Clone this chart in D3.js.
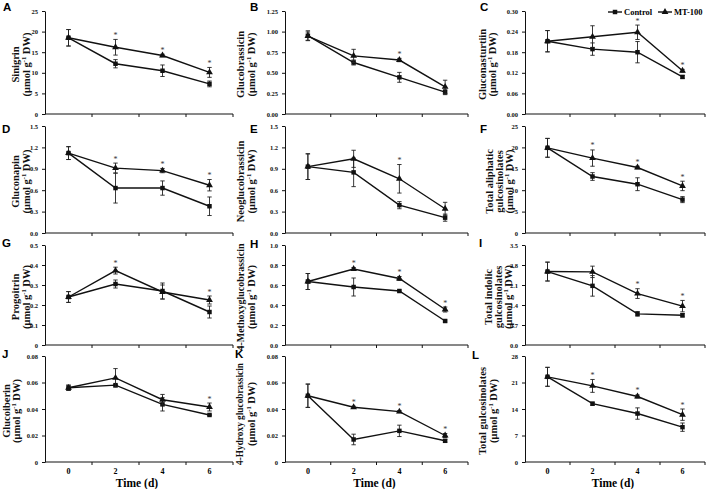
<!DOCTYPE html>
<html><head><meta charset="utf-8">
<script src="https://cdn.jsdelivr.net/npm/d3@7/dist/d3.min.js"></script>
<style>body{margin:0;background:#fff}svg{display:block}</style>
</head><body><svg id="c" width="708" height="489"></svg>
<script>
// ---------- data ----------
const days = [0, 2, 4, 6];
const letters = ["A","B","C","D","E","F","G","H","I","J","K","L"];
const UNIT = "__unit__";
const titles = [
  ["Sinigrin", UNIT],
  ["Glucobrassicin", UNIT],
  ["Gluconasturtiin", UNIT],
  ["Gluconapin", UNIT],
  ["Neoglucobrassicin", UNIT],
  ["Total aliphatic", "gulcosinolates", UNIT],
  ["Progoitrin", UNIT],
  ["4-Methoxyglucobrassicin", UNIT],
  ["Total indolic", "gulcosinolates", UNIT],
  ["Glucoiberin", UNIT],
  ["4-Hydroxy glucobrassicin", UNIT],
  ["Total gulcosinolates", UNIT]
];
const yTicks = [
  ["0","5","10","15","20","25"],
  ["0.00","0.25","0.50","0.75","1.00","1.25"],
  ["0.00","0.06","0.12","0.18","0.24","0.30"],
  ["0.0","0.3","0.6","0.9","1.2","1.5"],
  ["0.0","0.3","0.6","0.9","1.2","1.5"],
  ["0","5","10","15","20","25"],
  ["0","0.1","0.2","0.3","0.4","0.5"],
  ["0.0","0.2","0.4","0.6","0.8","1.0"],
  ["0.0","0.7","1.4","2.1","2.8","3.5"],
  ["0","0.02","0.04","0.06","0.08"],
  ["0","0.02","0.04","0.06","0.08"],
  ["0","7","14","21","28"]
];
const controlMean = [
  [18.5, 12.2, 10.5, 7.3],
  [0.95, 0.625, 0.445, 0.265],
  [0.212, 0.189, 0.180, 0.108],
  [1.12, 0.63, 0.63, 0.375],
  [0.93, 0.85, 0.39, 0.215],
  [19.9, 13.2, 11.4, 7.8],
  [0.24, 0.305, 0.27, 0.165],
  [0.635, 0.58, 0.54, 0.24],
  [2.57, 2.07, 1.09, 1.04],
  [0.056, 0.058, 0.0435, 0.0355],
  [0.05, 0.017, 0.0235, 0.016],
  [22.5, 15.4, 12.8, 9.2]
];
const controlErr = [
  [2.0, 1.0, 1.4, 0.7],
  [0.06, 0.03, 0.06, 0.03],
  [0.031, 0.018, 0.031, 0.004],
  [0.09, 0.21, 0.1, 0.13],
  [0.18, 0.2, 0.05, 0.05],
  [2.2, 0.9, 1.5, 0.7],
  [0.027, 0.02, 0.04, 0.03],
  [0.08, 0.09, 0.01, 0.01],
  [0.33, 0.36, 0.08, 0.06],
  [0.002, 0.0005, 0.005, 0.0005],
  [0.0088, 0.004, 0.0043, 0.001],
  [2.5, 0.4, 1.5, 1.1]
];
const mtMean = [
  [18.5, 16.2, 14.2, 10.1],
  [0.945, 0.705, 0.655, 0.33],
  [0.212, 0.225, 0.238, 0.126],
  [1.12, 0.91, 0.875, 0.67],
  [0.93, 1.04, 0.76, 0.34],
  [19.9, 17.5, 15.3, 11.0],
  [0.24, 0.372, 0.265, 0.225],
  [0.635, 0.76, 0.665, 0.355],
  [2.57, 2.56, 1.8, 1.36],
  [0.056, 0.0635, 0.047, 0.0415],
  [0.05, 0.0413, 0.038, 0.02],
  [22.5, 20.1, 17.3, 12.5]
];
const mtErr = [
  [2.0, 1.9, 0.3, 1.2],
  [0.05, 0.08, 0.02, 0.08],
  [0.031, 0.032, 0.021, 0.004],
  [0.09, 0.07, 0.03, 0.08],
  [0.18, 0.12, 0.2, 0.09],
  [2.2, 1.9, 0.3, 1.1],
  [0.027, 0.017, 0.035, 0.02],
  [0.08, 0.015, 0.02, 0.025],
  [0.33, 0.2, 0.17, 0.2],
  [0.002, 0.007, 0.004, 0.003],
  [0.0088, 0.0008, 0.0008, 0.0015],
  [2.5, 1.7, 0.4, 1.5]
];
const significant = [
  [0,1,1,1],[0,0,1,0],[0,0,1,1],
  [0,1,1,1],[0,0,1,0],[0,1,1,1],
  [0,1,0,1],[0,1,1,1],[0,0,1,1],
  [0,0,0,1],[0,1,1,1],[0,1,1,1]
];
const seriesNames = ["Control", "MT-100"];
const xTitle = "Time (d)";

// ---------- layout ----------
const cols = [{l:45, r:233}, {l:285, r:468}, {l:525, r:705}];
const rows = [{t:11, b:114}, {t:126, b:233}, {t:245, b:345}, {t:356, b:462}];
const titleX = [[15,26],[240,251],[482,492],[15,26],[240,251],[489,499,509],
                [15,26],[240,251],[488,498,508],[6,16],[240,251],[482,493]];
const titleSize = [10.5,10.5,10.5,10.5,10.5,10.5,10.5,10,10.5,10.5,9.3,10.5];
const titleDy = [0,0,0,0,0,0,0,0,0,0,3,0];
const letterXY = [[3,11],[250,11],[480,11],[2,133],[250,133],[480,133],
                  [2,247],[250,248],[479,247],[2,358],[235,358],[472,359]];

const SERIF = "'Liberation Serif','Times New Roman',serif";
const SANS = "'Liberation Sans',Arial,sans-serif";
const svg = d3.select("#c");
svg.append("rect").attr("width",708).attr("height",489).attr("fill","#fff");

function addUnit(t, fs) {
  t.append("tspan").text("(\u03bcmol g");
  t.append("tspan").attr("font-size", (fs * 0.62) + "px").attr("dy", "-3.5").text("-1");
  t.append("tspan").attr("dy", "3.5").text(" DW)");
}

letters.forEach((L, i) => {
  const c = cols[i % 3], r = rows[Math.floor(i / 3)];
  const g = svg.append("g");
  const tickNums = yTicks[i].map(Number);
  const x = d3.scaleBand().domain(days).range([c.l, c.r]);
  const bw = x.bandwidth();
  const y = d3.scaleLinear().domain([0, d3.max(tickNums)]).range([r.b, r.t]);

  // y axis
  const ya = g.append("g").attr("transform", `translate(${c.l},0)`)
    .call(d3.axisLeft(y).tickValues(tickNums).tickFormat((d, k) => yTicks[i][k])
      .tickSize(3).tickSizeOuter(0).tickPadding(4));
  ya.selectAll("text").attr("font-family", SERIF).attr("font-weight", "bold")
    .attr("font-size", "6.5px").attr("fill", "#111");
  ya.selectAll("line,path").attr("stroke", "#111").attr("stroke-width", 1);

  // x axis
  g.append("line").attr("x1", c.l).attr("x2", c.r).attr("y1", r.b).attr("y2", r.b)
    .attr("stroke", "#111").attr("stroke-width", 1);
  g.selectAll(".xt").data(days).enter().append("line")
    .attr("x1", d => x(d) + bw).attr("x2", d => x(d) + bw)
    .attr("y1", r.b).attr("y2", r.b + 3)
    .attr("stroke", "#111").attr("stroke-width", 1);
  if (Math.floor(i / 3) === 3) {
    g.selectAll(".xl").data(days).enter().append("text")
      .attr("x", d => x(d) + bw / 2).attr("y", r.b + 12)
      .attr("text-anchor", "middle").attr("font-family", SERIF)
      .attr("font-weight", "bold").attr("font-size", "8px").text(d => d);
    g.append("text").attr("x", (c.l + c.r) / 2 - 2).attr("y", r.b + 25)
      .attr("text-anchor", "middle").attr("font-family", SERIF)
      .attr("font-weight", "bold").attr("font-size", "11.5px").text(xTitle);
  }

  // y title
  const ym = (r.t + r.b) / 2 + 2 + titleDy[i];
  titles[i].forEach((line, k) => {
    const fs = line === UNIT ? 10.5 : titleSize[i];
    const t = g.append("text")
      .attr("transform", `translate(${titleX[i][k]},${ym}) rotate(-90)`)
      .attr("text-anchor", "middle").attr("dominant-baseline", "central")
      .attr("font-family", SERIF).attr("font-weight", "bold").attr("font-size", fs + "px")
      .attr("fill", "#111");
    if (line === UNIT) addUnit(t, fs); else t.text(line);
  });

  // panel letter
  g.append("text").attr("x", letterXY[i][0]).attr("y", letterXY[i][1])
    .attr("font-family", SANS).attr("font-weight", "bold").attr("font-size", "11.5px")
    .text(L);

  const series = [
    {mean: controlMean[i], err: controlErr[i], sym: d3.symbolSquare, size: 20},
    {mean: mtMean[i], err: mtErr[i], sym: d3.symbolTriangle, size: 20}
  ];
  const cx = d => x(d) + bw / 2;
  series.forEach(s => {
    const pts = days.map((d, k) => ({d, v: s.mean[k], e: s.err[k]}));
    // error bars
    pts.forEach(p => {
      const yt = y(p.v + p.e), yb = y(p.v - p.e), X = cx(p.d);
      g.append("line").attr("x1", X).attr("x2", X).attr("y1", yt).attr("y2", yb)
        .attr("stroke", "#222").attr("stroke-width", 0.9);
      [yt, yb].forEach(yy => g.append("line").attr("x1", X - 2.2).attr("x2", X + 2.2)
        .attr("y1", yy).attr("y2", yy).attr("stroke", "#222").attr("stroke-width", 0.9));
    });
    g.append("path").datum(pts)
      .attr("d", d3.line().x(p => cx(p.d)).y(p => y(p.v)))
      .attr("fill", "none").attr("stroke", "#111").attr("stroke-width", 1.4);
    g.selectAll(null).data(pts).enter().append("path")
      .attr("transform", p => `translate(${cx(p.d)},${y(p.v)})`)
      .attr("d", d3.symbol().type(s.sym).size(s.size)).attr("fill", "#111");
  });

  // asterisks
  days.forEach((d, k) => {
    if (!significant[i][k]) return;
    const top = Math.max(mtMean[i][k] + mtErr[i][k], controlMean[i][k] + controlErr[i][k]);
    g.append("text").attr("x", cx(d)).attr("y", y(top) - 1.5)
      .attr("text-anchor", "middle").attr("font-family", SERIF)
      .attr("font-size", "8px").attr("fill", "#333").text("*");
  });

  // legend in panel C
  if (i === 2) {
    const lg = g.append("g");
    const items = [{x: 608, sym: d3.symbolSquare, size: 20}, {x: 658, sym: d3.symbolTriangle, size: 20}];
    items.forEach((it, k) => {
      lg.append("line").attr("x1", it.x).attr("x2", it.x + 14).attr("y1", 12).attr("y2", 12)
        .attr("stroke", "#111").attr("stroke-width", 1.4);
      lg.append("path").attr("transform", `translate(${it.x + 7},12)`)
        .attr("d", d3.symbol().type(it.sym).size(it.size)).attr("fill", "#111");
      lg.append("text").attr("x", it.x + 16).attr("y", 15).attr("font-family", SERIF)
        .attr("font-weight", "bold").attr("font-size", "8.5px").text(seriesNames[k]);
    });
  }
});
</script></body></html>
